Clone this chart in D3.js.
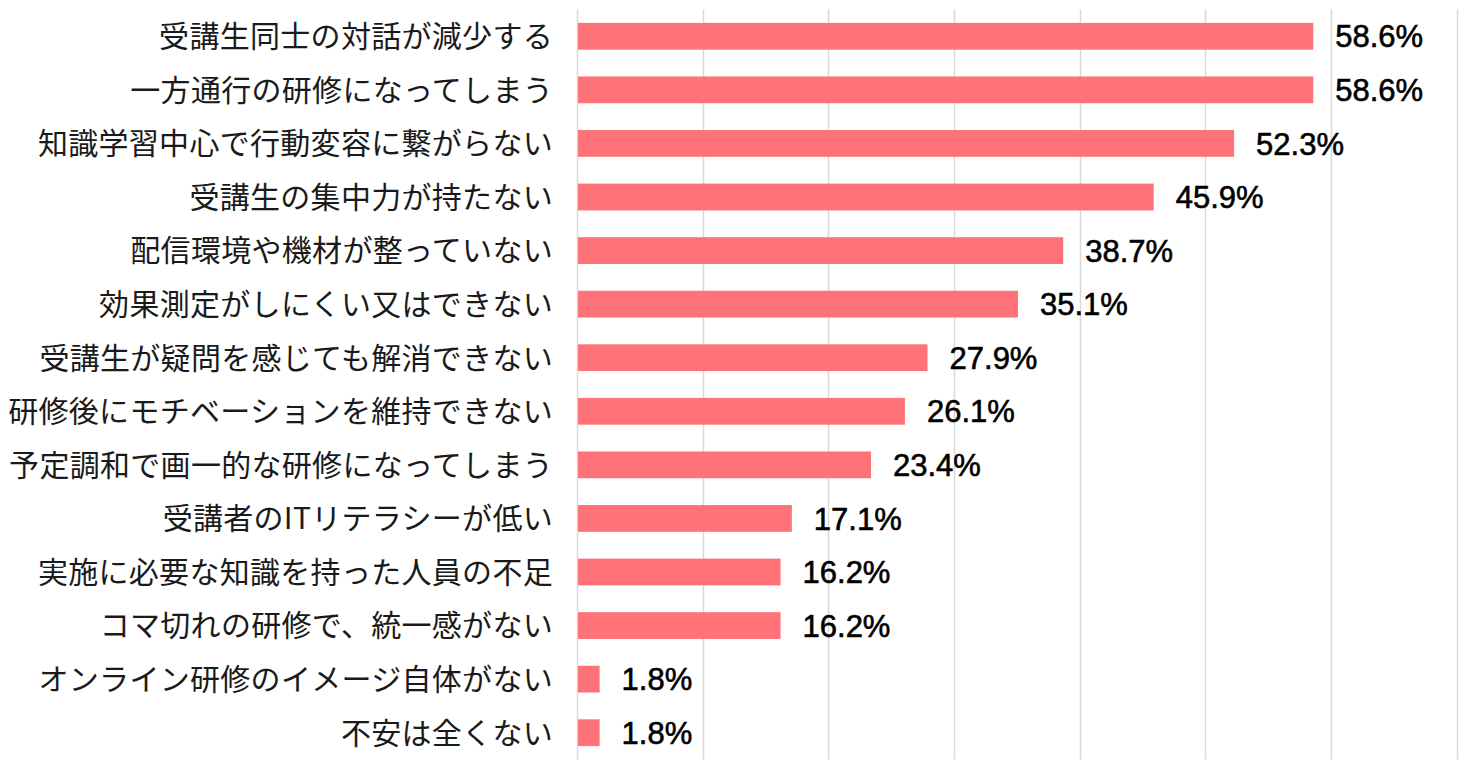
<!DOCTYPE html>
<html>
<head>
<meta charset="utf-8">
<script src="https://cdn.jsdelivr.net/npm/d3@7"></script>
<style>
  html, body { margin: 0; padding: 0; background: #ffffff; }
  svg { display: block; }
</style>
</head>
<body>
<svg id="chart" width="1480" height="765"></svg>
<script>
const categories = [
  "受講生同士の対話が減少する",
  "一方通行の研修になってしまう",
  "知識学習中心で行動変容に繋がらない",
  "受講生の集中力が持たない",
  "配信環境や機材が整っていない",
  "効果測定がしにくい又はできない",
  "受講生が疑問を感じても解消できない",
  "研修後にモチベーションを維持できない",
  "予定調和で画一的な研修になってしまう",
  "受講者のITリテラシーが低い",
  "実施に必要な知識を持った人員の不足",
  "コマ切れの研修で、統一感がない",
  "オンライン研修のイメージ自体がない",
  "不安は全くない"
];
const values = [58.6, 58.6, 52.3, 45.9, 38.7, 35.1, 27.9, 26.1, 23.4, 17.1, 16.2, 16.2, 1.8, 1.8];
const gridTicks = [0, 10, 20, 30, 40, 50, 60, 70];

const svg = d3.select("#chart");
const margin = { left: 577, right: 23.5, top: 9.5, bottom: 5.5 };
const W = 1480, H = 765;

const x = d3.scaleLinear().domain([0, 70]).range([margin.left, W - margin.right]);
const y = d3.scaleBand().domain(categories).range([margin.top, H - margin.bottom]).paddingInner(0.5).paddingOuter(0.25);

// gridlines
svg.append("g").selectAll("line").data(gridTicks).join("line")
  .attr("x1", d => Math.round(x(d)) + 0.5)
  .attr("x2", d => Math.round(x(d)) + 0.5)
  .attr("y1", margin.top)
  .attr("y2", H - margin.bottom)
  .attr("stroke", "#d9d9d9")
  .attr("stroke-width", 1.5);

// bars
svg.append("g").selectAll("rect").data(values).join("rect")
  .attr("x", x(0) + 1)
  .attr("y", (d, i) => y(categories[i]))
  .attr("width", d => x(d) - x(0) - 1)
  .attr("height", y.bandwidth())
  .attr("fill", "#ff7378");

// value labels
svg.append("g").selectAll("text").data(values).join("text")
  .attr("x", d => x(d) + 22)
  .attr("y", (d, i) => y(categories[i]) + y.bandwidth() / 2)
  .attr("dy", "0.36em")
  .attr("font-family", "'Liberation Sans', Arial, sans-serif")
  .attr("font-size", 31)
  .attr("fill", "#000")
  .attr("stroke", "#000")
  .attr("stroke-width", 0.6)
  .text(d => d.toFixed(1) + "%");

// category labels
svg.append("g").selectAll("text").data(categories).join("text")
  .attr("x", 553)
  .attr("y", d => y(d) + y.bandwidth() / 2)
  .attr("dy", "0.36em")
  .attr("text-anchor", "end")
  .attr("font-family", "'Noto Sans CJK JP', sans-serif")
  .attr("font-size", 30)
  .attr("letter-spacing", 0.3)
  .attr("fill", "#1a1a1a")
  .text(d => d);
</script>
</body>
</html>
